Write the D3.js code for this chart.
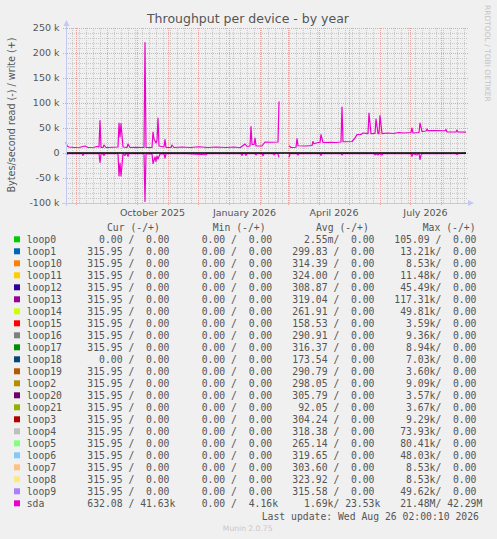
<!DOCTYPE html>
<html>
<head>
<meta charset="utf-8">
<style>
body { margin: 0; background: #f0f0f0; }
svg { display: block; font-family: "DejaVu Sans", sans-serif; }
.mono { font-family: "DejaVu Sans Mono", monospace; font-size: 9.75px; fill: #555; white-space: pre; }
</style>
</head>
<body>
<svg width="497" height="539"></svg>
<script src="https://d3js.org/d3.v7.min.js"></script>
<script>

// sda write (+), kB/s, daily points; null = no data
var sdaWrite = [
  ["2025-07-22", 22], ["2025-07-23", 14], ["2025-07-25", 12], ["2025-07-30", 11], ["2025-08-05", 11.5],
  ["2025-08-10", 14], ["2025-08-13", 11], ["2025-08-19", 11.5], ["2025-08-22", 13], ["2025-08-24", 12],
  ["2025-08-25", 65], ["2025-08-26", 11], ["2025-08-28", 11], ["2025-08-29", 16], ["2025-08-31", 11],
  ["2025-09-07", 11.5], ["2025-09-12", 12], ["2025-09-13", 60], ["2025-09-14", 32], ["2025-09-15", 59],
  ["2025-09-17", 12], ["2025-09-21", 11], ["2025-09-22", 18], ["2025-09-24", 11], ["2025-09-30", 11.5],
  ["2025-10-08", 11], ["2025-10-09", 221], ["2025-10-10", 11], ["2025-10-16", 11], ["2025-10-17", 42],
  ["2025-10-18", 28], ["2025-10-20", 20], ["2025-10-21", 25], ["2025-10-22", 70], ["2025-10-23", 14],
  ["2025-10-28", 12], ["2025-10-29", 27], ["2025-10-30", 11], ["2025-11-04", 11], ["2025-11-05", 16],
  ["2025-11-07", 11], ["2025-11-15", 12], ["2025-11-23", 11], ["2025-12-02", 12.5], ["2025-12-11", 11],
  ["2025-12-19", 12], ["2025-12-29", 11], ["2026-01-06", 12], ["2026-01-12", 10.5], ["2026-01-17", 18],
  ["2026-01-19", 13], ["2026-01-22", 14], ["2026-01-23", 53], ["2026-01-24", 17], ["2026-01-26", 17],
  ["2026-01-27", 30], ["2026-01-28", 14], ["2026-02-03", 14], ["2026-02-06", 22], ["2026-02-12", 21.5],
  ["2026-02-19", 22], ["2026-02-20", 103], ["2026-02-21", null], ["2026-03-02", 14.6], ["2026-03-04", 11],
  ["2026-03-09", 11.5], ["2026-03-10", 28.6], ["2026-03-11", 14.5], ["2026-03-19", 14], ["2026-03-25", 15],
  ["2026-03-26", 23], ["2026-03-27", 18.6], ["2026-03-31", 21], ["2026-04-02", 21], ["2026-04-03", 36.6],
  ["2026-04-05", 21], ["2026-04-13", 21.5], ["2026-04-18", 21], ["2026-04-23", 22], ["2026-04-24", 92],
  ["2026-04-25", 22.5], ["2026-05-04", 23], ["2026-05-07", 30], ["2026-05-09", 36.7], ["2026-05-13", 37],
  ["2026-05-15", 40], ["2026-05-20", 38.7], ["2026-05-21", 80], ["2026-05-23", 38.7], ["2026-05-27", 39],
  ["2026-05-28", 68], ["2026-05-30", 38.7], ["2026-05-31", 38.7], ["2026-06-01", 75], ["2026-06-03", 38.7],
  ["2026-06-09", 40], ["2026-06-14", 39], ["2026-06-20", 41], ["2026-06-25", 40], ["2026-07-02", 41],
  ["2026-07-03", 50], ["2026-07-04", 40], ["2026-07-10", 41], ["2026-07-11", 60], ["2026-07-13", 43],
  ["2026-07-17", 44], ["2026-07-18", 48], ["2026-07-19", 44.6], ["2026-07-27", 44.6], ["2026-08-05", 44.5],
  ["2026-08-06", 47], ["2026-08-07", 42], ["2026-08-16", 42], ["2026-08-17", 46], ["2026-08-18", 42],
  ["2026-08-26", 41.6]
];

// sda read (-), kB/s
var sdaRead = [
  ["2025-07-22", -3.4], ["2025-07-24", -1.5], ["2025-08-07", -1.5], ["2025-08-08", -4.7], ["2025-08-09", -1.5],
  ["2025-08-24", -1.5], ["2025-08-25", -19], ["2025-08-26", -2], ["2025-08-28", -1.5], ["2025-08-29", -5],
  ["2025-08-30", -1.5], ["2025-09-12", -1.5], ["2025-09-13", -46], ["2025-09-14", -20], ["2025-09-15", -46],
  ["2025-09-17", -2], ["2025-09-19", -5], ["2025-09-20", -1.5], ["2025-09-21", -1.5], ["2025-09-22", -6.7],
  ["2025-09-23", -1.5], ["2025-10-08", -1.5], ["2025-10-09", -97], ["2025-10-10", -2], ["2025-10-16", -1.5],
  ["2025-10-17", -21], ["2025-10-19", -8], ["2025-10-20", -17], ["2025-10-21", -6], ["2025-10-22", -12],
  ["2025-10-24", -2], ["2025-10-28", -1.5], ["2025-10-29", -10], ["2025-10-30", -1.5], ["2025-11-19", -1.5],
  ["2025-12-09", -3.5], ["2025-12-10", -1.5], ["2026-01-13", -1.5], ["2026-01-14", -4.7], ["2026-01-15", -1.5],
  ["2026-01-17", -1.5], ["2026-01-18", -4.7], ["2026-01-19", -1.5], ["2026-01-27", -1.5], ["2026-01-28", -4],
  ["2026-01-29", -1.5], ["2026-02-03", -1.5], ["2026-02-04", -5.3], ["2026-02-05", -1.5], ["2026-02-14", -1.5],
  ["2026-02-15", -4], ["2026-02-16", -1.5], ["2026-02-19", -1.5], ["2026-02-20", -8.7], ["2026-02-21", null],
  ["2026-03-02", -8.7], ["2026-03-03", -1.5], ["2026-03-10", -1.5], ["2026-03-11", -4], ["2026-03-12", -1.5],
  ["2026-04-02", -1.5], ["2026-04-03", -4.7], ["2026-04-04", -1.5], ["2026-04-23", -1.5], ["2026-04-24", -4],
  ["2026-04-25", -1.5], ["2026-05-26", -1.5], ["2026-05-27", -4], ["2026-05-28", -1.5], ["2026-05-30", -4],
  ["2026-05-31", -1.5], ["2026-06-03", -4], ["2026-06-04", -1.5], ["2026-07-02", -1.5], ["2026-07-03", -6.7],
  ["2026-07-04", -1.5], ["2026-07-08", -4], ["2026-07-09", -1.5], ["2026-07-10", -1.5], ["2026-07-11", -13],
  ["2026-07-12", -4], ["2026-07-13", -1.5], ["2026-08-16", -1.5], ["2026-08-17", -3], ["2026-08-18", -1.5],
  ["2026-08-26", -0.6]
];

var yTicks = [-100, -50, 0, 50, 100, 150, 200, 250];
var xLabels = ["October 2025", "January 2026", "April 2026", "July 2026"];
var rangeStart = "2025-07-22", rangeEnd = "2026-08-26";

var devices = ["loop0", "loop1", "loop10", "loop11", "loop12", "loop13", "loop14", "loop15", "loop16",
  "loop17", "loop18", "loop19", "loop2", "loop20", "loop21", "loop3", "loop4", "loop5", "loop6", "loop7",
  "loop8", "loop9", "sda"];
var colors = ["#00CC00", "#0066B3", "#FF8000", "#FFCC00", "#330099", "#990099", "#CCFF00", "#FF0000",
  "#808080", "#008F00", "#00487D", "#B35A00", "#B38F00", "#6B006B", "#8FB300", "#B30000", "#BEBEBE",
  "#80FF80", "#80C9FF", "#FFC080", "#FFE680", "#AA80FF", "#EE00CC"];
var curRead = [0, 315.95, 315.95, 315.95, 315.95, 315.95, 315.95, 315.95, 315.95, 315.95, 0, 315.95,
  315.95, 315.95, 315.95, 315.95, 315.95, 315.95, 315.95, 315.95, 315.95, 315.95, 632.08];
var curWrite = [0, 0, 0, 0, 0, 0, 0, 0, 0, 0, 0, 0, 0, 0, 0, 0, 0, 0, 0, 0, 0, 0, 41630];
var minRead = [0, 0, 0, 0, 0, 0, 0, 0, 0, 0, 0, 0, 0, 0, 0, 0, 0, 0, 0, 0, 0, 0, 0];
var minWrite = [0, 0, 0, 0, 0, 0, 0, 0, 0, 0, 0, 0, 0, 0, 0, 0, 0, 0, 0, 0, 0, 0, 4160];
var avgRead = [0.00255, 299.83, 314.39, 324.00, 308.87, 319.04, 261.91, 158.53, 290.91, 316.37, 173.54,
  290.79, 298.05, 305.79, 92.05, 304.24, 318.38, 265.14, 319.65, 303.60, 323.92, 315.58, 1690];
var avgWrite = [0, 0, 0, 0, 0, 0, 0, 0, 0, 0, 0, 0, 0, 0, 0, 0, 0, 0, 0, 0, 0, 0, 23530];
var maxRead = [105.09, 13210, 8530, 11480, 45490, 117310, 49810, 3590, 9360, 8940, 7030, 3600, 9090,
  3570, 3670, 9290, 73930, 80410, 48030, 8530, 8530, 49620, 21480000];
var maxWrite = [0, 0, 0, 0, 0, 0, 0, 0, 0, 0, 0, 0, 0, 0, 0, 0, 0, 0, 0, 0, 0, 0, 42290000];

var svg = d3.select("svg");
var plot = {left: 66, right: 466, top: 28, bottom: 203};
var axisColor = "#c4c8f4", minorColor = "#c8c8c8", majorColor = "#e8a3a3", textColor = "#555";

var parseDay = d3.timeParse("%Y-%m-%d"),
    parseMonth = d3.timeParse("%B %Y");

var x = d3.scaleTime()
    .domain([parseDay(rangeStart), parseDay(rangeEnd)])
    .range([plot.left, plot.right]);
var y = d3.scaleLinear()
    .domain([-100, 250])
    .range([plot.bottom, plot.top]);

svg.append("rect").attr("width", 497).attr("height", 539).attr("fill", "#f0f0f0");

// grid
var grid = svg.append("g").attr("shape-rendering", "crispEdges").attr("stroke-dasharray", "1,1");

d3.range(-100, 251, 10).filter(function(v) { return v % 50 !== 0; }).forEach(function(v) {
  grid.append("line")
      .attr("x1", plot.left).attr("x2", plot.right + 2)
      .attr("y1", Math.round(y(v)) + 0.5).attr("y2", Math.round(y(v)) + 0.5)
      .attr("stroke", minorColor);
});

d3.timeMonday.range(x.domain()[0], x.domain()[1]).forEach(function(d) {
  var px = Math.round(x(d)) + 0.5;
  grid.append("line")
      .attr("x1", px).attr("x2", px)
      .attr("y1", plot.top).attr("y2", plot.bottom)
      .attr("stroke", minorColor);
});

yTicks.forEach(function(v) {
  grid.append("line")
      .attr("x1", plot.left - 3).attr("x2", plot.right + 2)
      .attr("y1", Math.round(y(v)) + 0.5).attr("y2", Math.round(y(v)) + 0.5)
      .attr("stroke", majorColor);
});

d3.timeMonth.range(x.domain()[0], x.domain()[1]).forEach(function(d) {
  var px = Math.round(x(d)) + 0.5;
  grid.append("line")
      .attr("x1", px).attr("x2", px)
      .attr("y1", plot.top).attr("y2", plot.bottom + 3)
      .attr("stroke", majorColor);
});

// y tick labels
svg.append("g").selectAll("text")
    .data(yTicks)
  .enter().append("text")
    .attr("x", 59.5)
    .attr("y", function(v) { return y(v) + 3.4; })
    .attr("text-anchor", "end")
    .attr("font-size", "9.5px")
    .attr("fill", textColor)
    .text(function(v) { return v === 0 ? "0" : v + " k"; });

// x labels, centred on their month
svg.append("g").selectAll("text")
    .data(xLabels)
  .enter().append("text")
    .attr("x", function(s) {
      var m = parseMonth(s);
      return (x(m) + x(d3.timeMonth.offset(m, 1))) / 2;
    })
    .attr("y", 215.5)
    .attr("text-anchor", "middle")
    .attr("font-size", "9.5px")
    .attr("fill", textColor)
    .text(function(s) { return s; });

// sda lines
var line = d3.line()
    .defined(function(d) { return d[1] !== null; })
    .x(function(d) { return x(parseDay(d[0])); })
    .y(function(d) { return y(d[1]); });

[sdaRead, sdaWrite].forEach(function(series) {
  svg.append("path")
      .datum(series)
      .attr("fill", "none")
      .attr("stroke", colors[22])
      .attr("stroke-width", 1.2)
      .attr("stroke-linejoin", "round")
      .attr("d", line);
});

// zero line
svg.append("line")
    .attr("x1", plot.left).attr("x2", plot.right)
    .attr("y1", y(0)).attr("y2", y(0))
    .attr("stroke", "#000")
    .attr("stroke-width", 1.5);

// axes with arrows
var axes = svg.append("g").attr("fill", axisColor).attr("stroke", axisColor);
axes.append("line").attr("x1", plot.left + 0.5).attr("x2", plot.left + 0.5)
    .attr("y1", plot.bottom + 3).attr("y2", 24).attr("shape-rendering", "crispEdges");
axes.append("line").attr("x1", plot.left - 4).attr("x2", plot.right + 3)
    .attr("y1", plot.bottom + 0.5).attr("y2", plot.bottom + 0.5).attr("shape-rendering", "crispEdges");
axes.append("path").attr("stroke", "none").attr("d", "M63.5,26L69.5,26L66.5,20Z");
axes.append("path").attr("stroke", "none").attr("d", "M468,200L468,206L474,203Z");

// titles
svg.append("text")
    .attr("x", 248).attr("y", 22.5)
    .attr("text-anchor", "middle")
    .attr("font-size", "12.5px")
    .attr("fill", textColor)
    .text("Throughput per device - by year");

svg.append("text")
    .attr("transform", "translate(14.5,115) rotate(-90)")
    .attr("text-anchor", "middle")
    .attr("font-size", "9.6px")
    .attr("fill", textColor)
    .text("Bytes/second read (-) / write (+)");

svg.append("text")
    .attr("transform", "translate(485,5) rotate(90)")
    .attr("font-size", "7.5px")
    .attr("fill", "#c4c4c4")
    .text("RRDTOOL / TOBI OETIKER");

// legend
var siUnits = {"-3": "m", "0": " ", "3": "k", "6": "M"};
var num = d3.format(">6.2f");
function rrdFmt(v) {
  var e = 0;
  if (v !== 0) e = Math.max(-3, Math.min(6, Math.floor(Math.log10(Math.abs(v)) / 3) * 3));
  return num(v / Math.pow(10, e)) + siUnits[e];
}
function pair(r, w) { return rrdFmt(r) + "/" + rrdFmt(w); }

var legend = svg.append("g");
var header = [["Cur (-/+)", 107], ["Min (-/+)", 212.7], ["Avg (-/+)", 316], ["Max (-/+)", 422.7]];
header.forEach(function(h) {
  legend.append("text").attr("class", "mono").attr("x", h[1]).attr("y", 231).text(h[0]);
});

var cols = [87.3, 190, 292.3, 394.3];
devices.forEach(function(name, i) {
  var cy = 239.3 + i * 12;
  legend.append("rect")
      .attr("x", 14).attr("y", cy - 3).attr("width", 6).attr("height", 6)
      .attr("fill", colors[i]);
  legend.append("text").attr("class", "mono").attr("x", 26.7).attr("y", cy + 3.5).text(name);
  var vals = [pair(curRead[i], curWrite[i]), pair(minRead[i], minWrite[i]),
              pair(avgRead[i], avgWrite[i]), pair(maxRead[i], maxWrite[i])];
  vals.forEach(function(s, j) {
    legend.append("text").attr("class", "mono").attr("x", cols[j]).attr("y", cy + 3.5).text(s);
  });
});

legend.append("text").attr("class", "mono")
    .attr("x", 261.7).attr("y", 519.5)
    .text("Last update: Wed Aug 26 02:00:10 2026");

svg.append("text")
    .attr("x", 247.7).attr("y", 531)
    .attr("text-anchor", "middle")
    .attr("font-size", "7.6px")
    .attr("fill", "#c8c8c8")
    .text("Munin 2.0.75");

</script>
</body>
</html>
